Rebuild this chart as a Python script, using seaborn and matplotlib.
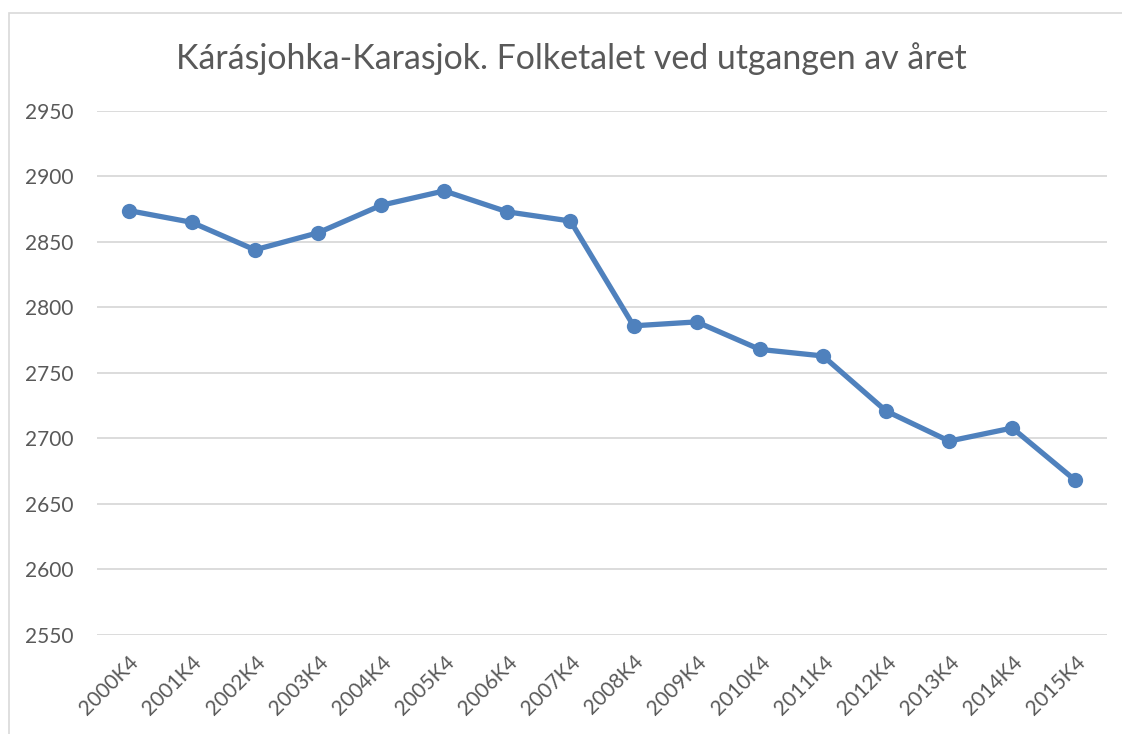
import pandas as pd
import matplotlib.pyplot as plt
import seaborn as sns
from matplotlib.patches import Rectangle

# Folketal ved utgangen av året, Kárásjohka-Karasjok
quarters = ['2000K4', '2001K4', '2002K4', '2003K4', '2004K4', '2005K4', '2006K4', '2007K4',
            '2008K4', '2009K4', '2010K4', '2011K4', '2012K4', '2013K4', '2014K4', '2015K4']
population = [2874, 2865, 2844, 2857, 2878, 2889, 2873, 2866,
              2786, 2789, 2768, 2763, 2721, 2698, 2708, 2668]
yticks = [2550, 2600, 2650, 2700, 2750, 2800, 2850, 2900, 2950]

df = pd.DataFrame({'kvartal': quarters, 'folketal': population})

sns.set_style('white')
plt.rcParams['font.family'] = ['Lato', 'DejaVu Sans']

txt_col = '#595959'
line_col = '#4F81BD'

fig = plt.figure(figsize=(11.22, 7.34), dpi=100)
ax = fig.add_axes([0.0865, 0.1349, 0.9001, 0.7139])

sns.lineplot(data=df, x='kvartal', y='folketal', ax=ax, color=line_col,
             linewidth=3.8, marker='o', markersize=11, markeredgewidth=0,
             sort=False)

ax.set_ylim(2550, 2950)
ax.set_yticks(yticks)
ax.set_xlim(-0.5, len(quarters) - 0.5)
ax.yaxis.grid(True, color='#D9D9D9', linewidth=1.3)
ax.set_axisbelow(True)
for s in ax.spines.values():
    s.set_visible(False)

ax.set_xlabel('')
ax.set_ylabel('')
ax.tick_params(axis='y', labelsize=15, labelcolor=txt_col, length=0, pad=17)
ax.tick_params(axis='x', labelsize=15, labelcolor=txt_col, length=0, pad=12)
plt.setp(ax.get_xticklabels(), rotation=45, ha='right', va='top', rotation_mode='anchor')

fig.text(0.509, 0.92, 'Kárásjohka-Karasjok. Folketalet ved utgangen av året',
         ha='center', va='center', fontsize=24.4, color=txt_col)

# chart frame like Excel
fig.patches.append(Rectangle((9 / 1122, -0.1), 1.2, 1 - 13 / 734 + 0.1,
                             transform=fig.transFigure, fill=False,
                             edgecolor='#D9D9D9', linewidth=1.2))

fig.savefig('out.png', dpi=100)
